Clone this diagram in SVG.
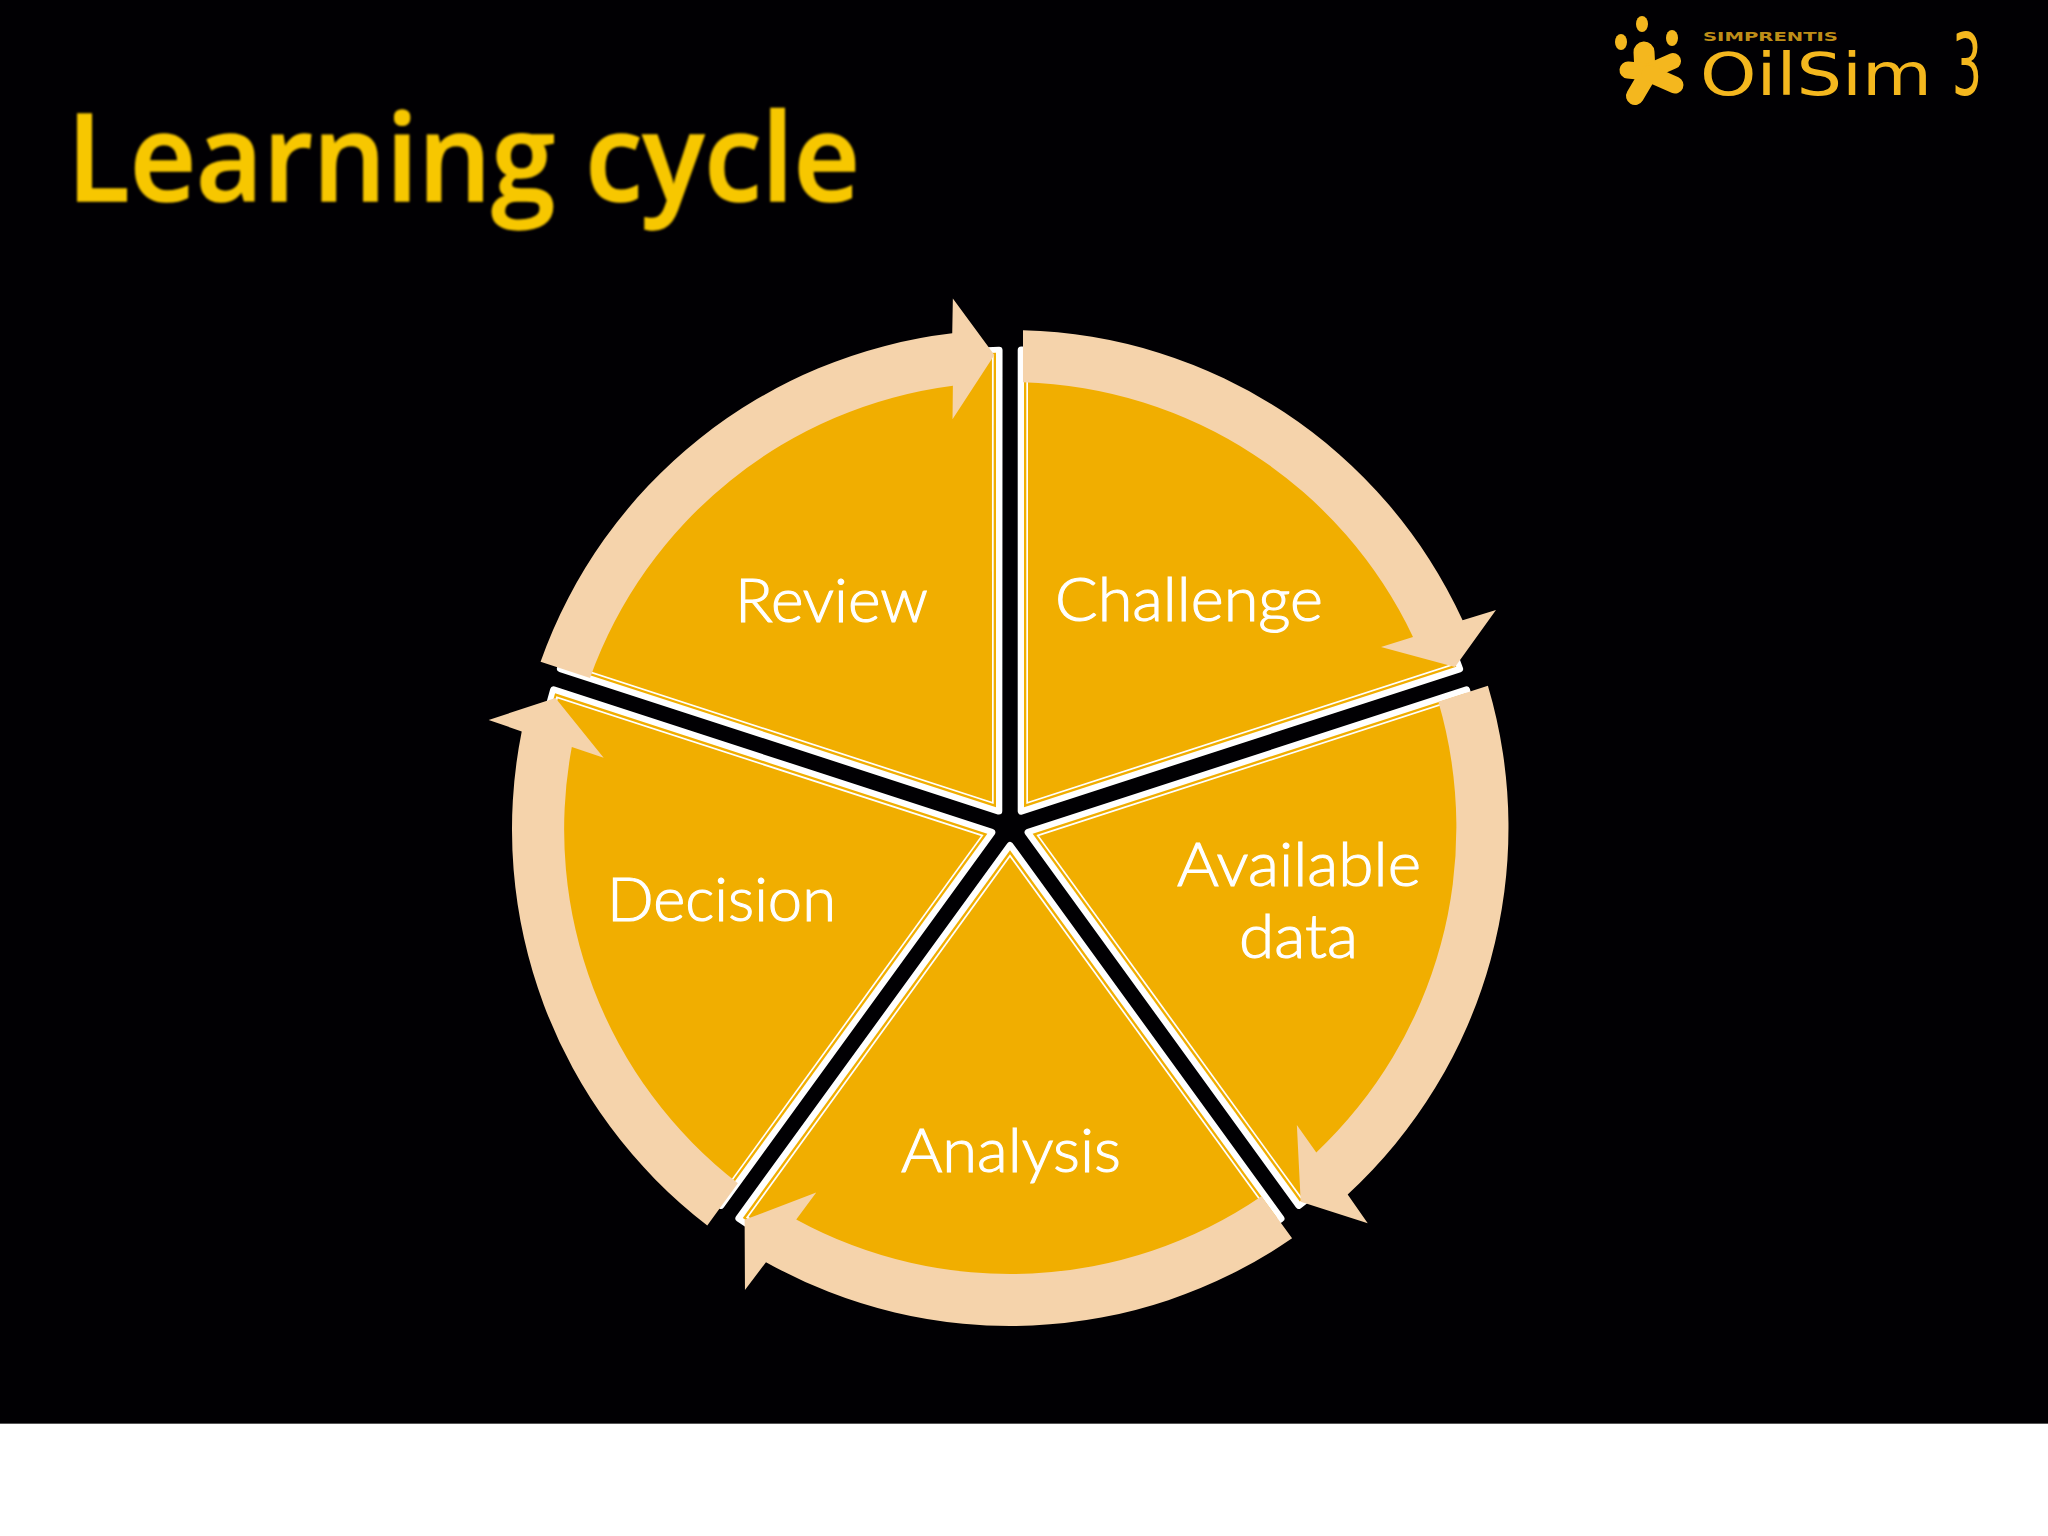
<svg xmlns="http://www.w3.org/2000/svg" width="2048" height="1536" viewBox="0 0 2048 1536">
<style>
.lbl{font-family:"Lato","Open Sans",sans-serif;font-size:62px;font-weight:300;fill:#fff;stroke:#fff;stroke-width:1.1px}
.logo{font-family:"DejaVu Sans",sans-serif;fill:#F4B71E}
</style>
<defs>
<filter id="soft" x="-5%" y="-5%" width="110%" height="110%"><feGaussianBlur stdDeviation="1.1"/></filter>
<g id="sector">
<path d="M11.2 -476.4A476.5 476.5 0 0 1 449.6 -157.6L11.2 -15.42Z" fill="#fff" stroke="#fff" stroke-width="7" stroke-linejoin="round"/>
<path d="M14 -473.8A474 474 0 0 1 446.3 -159.7L14 -19.27Z" fill="#F1AE00"/>
<path d="M16.3 -471.7A472 472 0 0 1 443.6 -161.3L16.3 -22.43Z" fill="#fff"/>
<path d="M18 -469.7A470 470 0 0 1 441.1 -162.3L18 -24.78Z" fill="#F1AE00"/>
</g>
<path id="arrow" fill="#F5D3AB" d="M13 -497.8A498 498 0 0 1 452.6 -207.8L486 -218L445 -161L371 -181L403 -191A446 446 0 0 0 13 -445.8Z"/>
</defs>
<rect id="slide" x="0" y="0" width="2048" height="1423" fill="#010003"/>
<rect x="0" y="1423" width="2048" height="1" fill="#555"/>
<rect x="0" y="1424" width="2048" height="112" fill="#fff"/>
<text id="title" x="67" y="201" font-family="'Open Sans',sans-serif" font-weight="600" font-size="122" fill="#F7C700" stroke="#F7C700" stroke-width="1.5" textLength="793" lengthAdjust="spacingAndGlyphs" filter="url(#soft)">Learning cycle</text>
<g id="logo">
<ellipse cx="1642" cy="24" rx="6" ry="8" fill="#F4B71E"/>
<ellipse cx="1621" cy="42" rx="6" ry="8" fill="#F4B71E"/>
<ellipse cx="1672" cy="38" rx="6" ry="8" fill="#F4B71E"/>
<g stroke="#F4B71E" stroke-linecap="round" fill="none">
<path d="M1645 72L1644 52" stroke-width="21"/>
<path d="M1648 72L1673 61" stroke-width="16"/>
<path d="M1648 72L1628 70" stroke-width="17"/>
<path d="M1648 74L1635 96" stroke-width="18"/>
<path d="M1650 74L1675 85" stroke-width="17"/>
</g>
<text class="logo" x="1703" y="41" font-size="13" font-weight="bold" fill-opacity=".8" textLength="135" lengthAdjust="spacingAndGlyphs">SIMPRENTIS</text>
<text class="logo" x="1700" y="95" font-size="58" textLength="232" lengthAdjust="spacingAndGlyphs">OilSim</text>
<text class="logo" x="1952" y="95" font-size="86" textLength="30" lengthAdjust="spacingAndGlyphs">3</text>
</g>
<g id="node-challenge"><use href="#sector" transform="translate(1010 826.5)"/><text class="lbl" x="1055" y="621" textLength="268" lengthAdjust="spacingAndGlyphs">Challenge</text></g>
<g id="node-available-data"><use href="#sector" transform="translate(1010 826.5) rotate(72)"/><text class="lbl" x="1177" y="886" textLength="244" lengthAdjust="spacingAndGlyphs">Available</text><text class="lbl" x="1239" y="958" textLength="119" lengthAdjust="spacingAndGlyphs">data</text></g>
<g id="node-analysis"><use href="#sector" transform="translate(1010 826.5) rotate(144)"/><text class="lbl" x="901" y="1172" textLength="220" lengthAdjust="spacingAndGlyphs">Analysis</text></g>
<g id="node-decision"><use href="#sector" transform="translate(1010 826.5) rotate(216)"/><text class="lbl" x="607" y="921" textLength="229" lengthAdjust="spacingAndGlyphs">Decision</text></g>
<g id="node-review"><use href="#sector" transform="translate(1010 826.5) rotate(288)"/><text class="lbl" x="735" y="622" textLength="193" lengthAdjust="spacingAndGlyphs">Review</text></g>
<g id="connectors">
<use href="#arrow" transform="translate(1010 828)"/>
<use href="#arrow" transform="translate(1009.5 827.5) rotate(72) scale(1.002)"/>
<use href="#arrow" transform="translate(1010 828) rotate(144)"/>
<use href="#arrow" transform="translate(1011 829.5) rotate(216) scale(1.002)"/>
<use href="#arrow" transform="translate(1010 828) rotate(288)"/>
</g>
</svg>
